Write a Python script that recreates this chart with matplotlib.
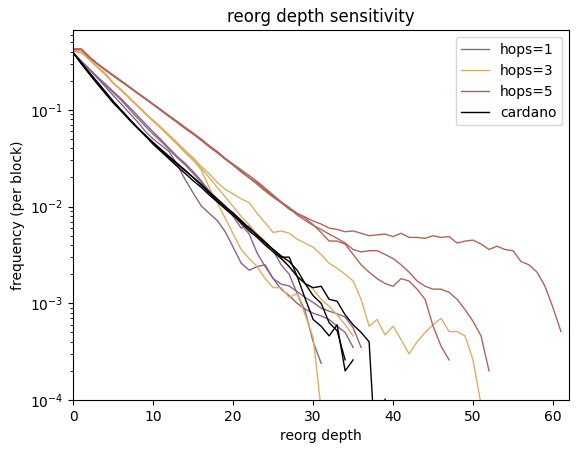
import matplotlib
matplotlib.use("Agg")
import matplotlib.pyplot as plt

# reorg depth frequencies (3 runs per setting)
hops1_runs = [
    [.389, .316, .263, .219, .182, .151, .126, .102, .083, .068, .056, .047, .039, .032, .027, .022,
     .0178, .0145, .012, .010, .0079, .006, .0063, .005, .0042, .0035, .0025, .002, .00126, .00083,
     .0004, .00024],
    [.389, .316, .263, .214, .174, .141, .115, .093, .076, .060, .050, .043, .037, .027, .019, .0138,
     .0102, .0085, .0072, .0055, .0038, .0026, .0022, .0024, .0025, .0018, .0014, .0012, .0010,
     .00087, .00079, .00074, .00068, .00058, .0005, .00035],
    [.389, .32, .265, .22, .185, .155, .13, .107, .088, .072, .059, .049, .040, .033, .028, .023,
     .0185, .0145, .012, .0102, .0083, .0066, .0052, .0033, .0024, .0018, .00158, .00151, .00132,
     .00115, .00102, .00089, .00083, .00078, .00072, .00056, .00035],
]
hops3_runs = [
    [.41, .40, .34, .28, .24, .19, .162, .135, .112, .093, .078, .066, .055, .046, .038, .032, .026,
     .022, .0178, .0151, .0135, .012, .011, .0085, .0068, .0054, .0056, .0053, .0046, .0042, .0038,
     .0032, .0026, .0023, .0020, .0017, .0011, .00058, .00068, .00047, .00058, .00042, .0003, .0004,
     .0005, .0006, .0007, .00051, .00051, .00046, .00026, .00009],
    [.41, .40, .335, .28, .235, .19, .16, .133, .11, .092, .077, .065, .054, .045, .037, .031, .025,
     .020, .0158, .0126, .010, .0079, .0065, .0052, .0044, .0035, .0030, .0024, .0019, .0016, .0014,
     .0011, .00093, .00076, .0006, .00046],
    [.40, .39, .33, .275, .23, .188, .158, .132, .11, .091, .076, .064, .053, .044, .036, .030, .024,
     .0158, .011, .0076, .0052, .0036, .0029, .0024, .0018, .00145, .00145, .00115, .00126, .00076,
     .00044, .00008],
]
hops5_runs = [
    [.427, .427, .355, .302, .263, .229, .200, .174, .151, .132, .115, .100, .087, .076, .066, .0575,
     .050, .0427, .0372, .0316, .0275, .024, .0209, .0182, .0155, .0132, .0112, .0098, .0085, .0078,
     .0071, .0066, .0060, .0058, .0055, .0056, .0053, .0050, .0051, .0052, .0049, .0053, .0048, .0048,
     .0047, .0050, .0048, .0049, .0042, .0044, .0045, .0041, .0036, .0039, .0036, .0035, .0027, .0025,
     .0021, .0015, .0009, .00051],
    [.42, .42, .35, .298, .258, .225, .196, .171, .149, .130, .113, .098, .085, .074, .064, .056,
     .0485, .0415, .036, .031, .027, .0232, .020, .0175, .015, .0128, .011, .0096, .0082, .0072,
     .0064, .0058, .0052, .0047, .0042, .0036, .0034, .0035, .0035, .0032, .0029, .0025, .0021,
     .0017, .0015, .0014, .0014, .0013, .0011, .00086, .00065, .00046, .0002],
    [.425, .425, .352, .30, .26, .226, .197, .172, .150, .131, .114, .099, .086, .075, .065, .057,
     .049, .042, .0365, .031, .0268, .0228, .0198, .017, .0145, .0125, .011, .0094, .0085, .0076,
     .0065, .0054, .0044, .0044, .0041, .0032, .0025, .0021, .0018, .0016, .0015, .0018, .0017,
     .0014, .0011, .00058, .00036, .00026],
]
cardano_runs = [
    [.389, .302, .240, .191, .151, .120, .098, .079, .065, .054, .045, .038, .032, .0275, .0234, .020,
     .0166, .0138, .0115, .0095, .0081, .0068, .0056, .0048, .0040, .0034, .0029, .0024, .0019,
     .00112, .00068, .00058, .00046, .0006, .0002, .00026],
    [.389, .30, .235, .186, .148, .118, .097, .080, .066, .055, .046, .039, .033, .028, .0238, .0200,
     .0170, .0142, .0120, .0100, .0086, .0072, .0060, .0051, .0043, .0036, .0031, .0027, .0022,
     .0016, .0012, .0010, .00063, .00052, .00026],
    [.389, .31, .245, .195, .155, .123, .100, .081, .066, .054, .044, .037, .031, .026, .022, .0185,
     .0158, .0132, .0112, .0095, .0082, .0070, .0059, .0050, .0042, .0036, .0030, .0030, .0019,
     .0016, .00145, .0015, .0011, .00105, .00076, .0006, .0005, .0004, .000015, .000102],
]

groups = [
    ("hops=1", "#8b6389", hops1_runs),
    ("hops=3", "#dcaf66", hops3_runs),
    ("hops=5", "#b1645b", hops5_runs),
    ("cardano", "black", cardano_runs),
]

fig = plt.figure(figsize=(5.78, 4.53), dpi=100)
ax = fig.add_axes([0.1268, 0.117, 0.8576, 0.8159])

for label, color, runs in groups:
    for i, run in enumerate(runs):
        ax.plot(range(len(run)), run, color=color, lw=1.0,
                label=label if i == 0 else None)

ax.set_yscale("log")
ax.set_xlim(0, 62)
ax.set_ylim(1e-4, 0.664)
ax.set_xlabel("reorg depth")
ax.set_ylabel("frequency (per block)")
ax.set_title("reorg depth sensitivity")
ax.legend(loc="upper right")

fig.savefig("out.png", dpi=100)
